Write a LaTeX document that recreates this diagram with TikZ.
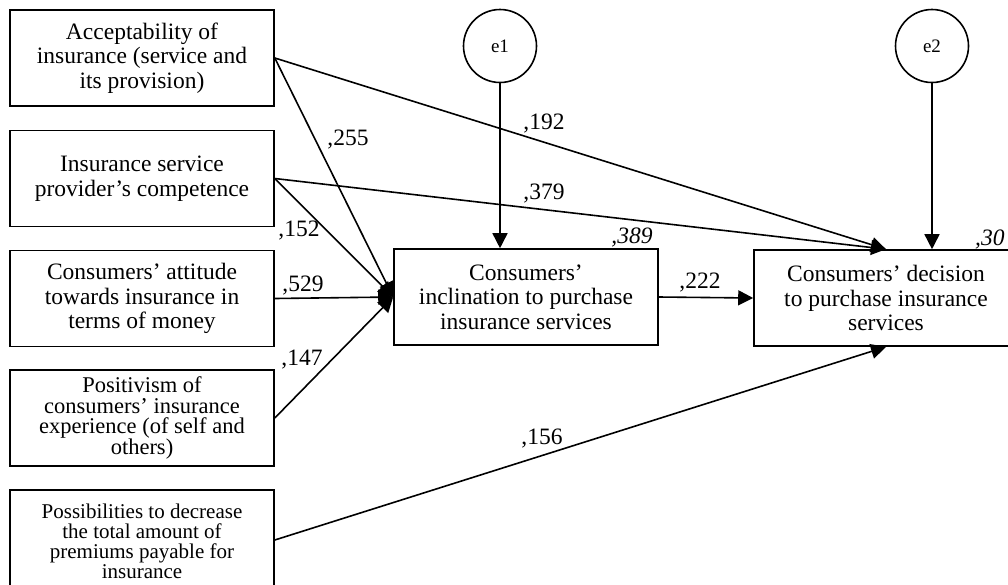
\documentclass[tikz,border=0pt]{standalone}
\usepackage{fontspec}
\setmainfont{Liberation Serif}
\usetikzlibrary{arrows.meta}
\begin{document}
\begin{tikzpicture}[x=1pt,y=-1pt,
  box/.style={draw,line width=1.6pt,minimum width=264pt,minimum height=96pt,inner sep=0pt,align=center,font=\fontsize{23.5}{24.5}\selectfont},
  err/.style={draw,circle,line width=1.6pt,minimum size=73pt,inner sep=0pt,font=\fontsize{19}{20}\selectfont},
  lab/.style={inner sep=0pt,font=\fontsize{23.5}{24}\selectfont},
  rsq/.style={inner sep=0pt,font=\fontsize{23.5}{24}\selectfont\itshape},
  conn/.style={line width=1.6pt,-{Triangle[length=15pt,width=15pt]}}
]
\useasboundingbox (0,0) rectangle (1008,584);
% exogenous boxes
\node[box] (A) at (142,58) {Acceptability of\\insurance (service and\\its provision)};
\node[box] (B) at (142,178.5) {Insurance service\\provider’s competence};
\node[box] (C) at (142,298.5) {Consumers’ attitude\\towards insurance in\\terms of money};
\node[box,font=\fontsize{22.5}{20.5}\selectfont] (D) at (142,418) {Positivism of\\consumers’ insurance\\experience (of self and\\others)};
\node[box,minimum height=100pt] (E) at (142,540) {};
\node[inner sep=0pt,align=center,font=\fontsize{21}{20}\selectfont] (Et) at (142,541) {Possibilities to decrease\\the total amount of\\premiums payable for\\insurance};
% endogenous boxes
\node[box] (M) at (526,297) {Consumers’\\inclination to purchase\\insurance services};
\node[box] (R) at (886,298) {Consumers’ decision\\to purchase insurance\\services};
% error terms
\node[err] (e1) at (500,46) {e1};
\node[err] (e2) at (932,46) {e2};
% connectors
\draw[conn] (A.east) -- (M.west);
\draw[conn] (A.east) -- (R.north);
\draw[conn] (B.east) -- (M.west);
\draw[conn] (B.east) -- (R.north);
\draw[conn] (C.east) -- (M.west);
\draw[conn] (D.east) -- (M.west);
\draw[conn] (E.east) -- (R.south);
\draw[conn] (M.east) -- (R.west);
\draw[conn] (e1.south) -- (e1.south |- M.north);
\draw[conn] (e2.south) -- (e2.south |- R.north);
% labels
\node[lab] (l255) at (348,140) {,255};
\node[lab] (l192) at (544,124) {,192};
\node[lab] (l379) at (544,194) {,379};
\node[lab] (l152) at (299,231) {,152};
\node[lab] (l529) at (303,286) {,529};
\node[lab] (l147) at (302,360) {,147};
\node[lab] (l222) at (700,283) {,222};
\node[lab] (l156) at (542,439) {,156};
\node[rsq] (r389) at (632,237) {,389};
\node[rsq,anchor=west] (r30) at (975,239) {,30};
\end{tikzpicture}
\end{document}
